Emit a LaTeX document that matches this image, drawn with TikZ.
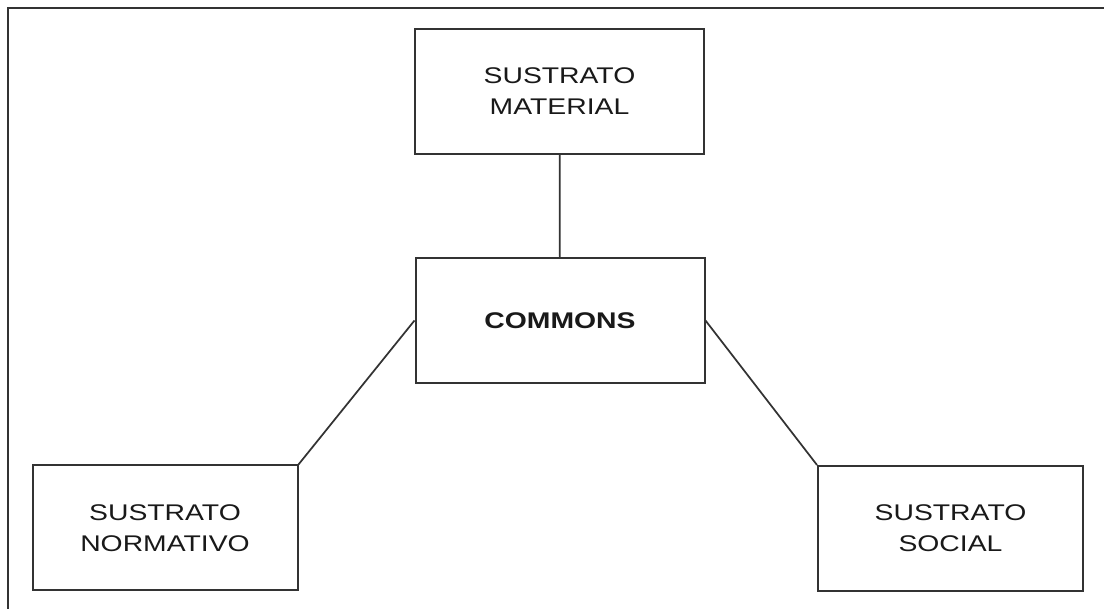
\documentclass[tikz,border=0pt]{standalone}
\usepackage{fontspec}
\newfontfamily\boxfont[FakeStretch=1.25]{Liberation Sans}
\begin{document}
\begin{tikzpicture}[x=0.75pt,y=-0.75pt,
    substrate/.style={draw=black!80,fill=white,align=center,inner sep=0pt,
        line width=1.5pt,minimum width=216.75pt,minimum height=93.75pt,
        text=black!90,font={\boxfont\fontsize{17}{23.25}\selectfont}},
    lowbox/.style={substrate,minimum width=198.75pt}]
    \useasboundingbox (0,0) rectangle (1104,609);
    \begin{scope}[line width=1.3pt,draw=black!80]

    % frame
    \draw[line width=1.6pt] (8,609) -- (8,8) -- (1104,8);

    \node[substrate] (material) at (559.5,91.5) {SUSTRATO\\MATERIAL};
    \node[substrate] (commons) at (560,320.5) {\bfseries COMMONS};
    \node[lowbox] (normativo) at (165,528) {SUSTRATO\\NORMATIVO};
    \node[lowbox] (social) at (950.5,528.5) {SUSTRATO\\SOCIAL};

    \draw (material) -- (commons);
    \draw (commons.west) -- (normativo.north east);
    \draw (commons.east) -- (social.north west);

    \end{scope}
\end{tikzpicture}
\end{document}
